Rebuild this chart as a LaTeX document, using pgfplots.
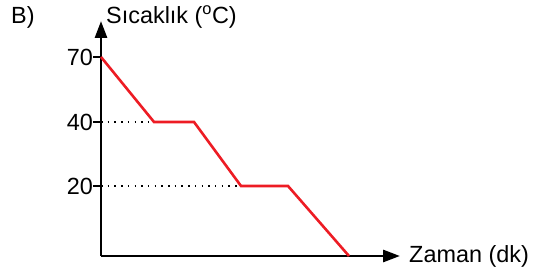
\documentclass[border=0pt]{standalone}
\usepackage{fontspec}
\setmainfont{Liberation Sans}
\usepackage{pgfplots}
\pgfplotsset{compat=1.18}
\usetikzlibrary{arrows.meta}
\definecolor{lred}{RGB}{237,28,36}
\begin{document}
\begin{tikzpicture}
\useasboundingbox (0,0) rectangle (535bp,276bp);
\node[anchor=west,inner sep=0pt,font=\fontsize{23.5}{28}\selectfont] at (11bp,258.5bp) {B)};
\begin{axis}[
  at={(101bp,20bp)}, anchor=origin,
  scale only axis, width=299bp, height=235bp,
  xmin=0, xmax=5.98, ymin=0, ymax=86.6,
  y coord trafo/.code={\pgfmathparse{3.5*min(#1,20)+3.2*max(min(#1,40)-20,0)+(65/30)*max(#1-40,0)}},
  axis lines=left,
  axis line style={line width=2.8bp, -{Triangle[length=17bp,width=12bp]}},
  xtick=\empty,
  ytick={20,40,70}, yticklabels={20,40,70},
  tick align=outside, major tick length=8bp,
  tick style={line width=1.5bp, black},
  font=\fontsize{23.5}{28}\selectfont,
  /pgf/number format/assume math mode=true,
  yticklabel style={anchor=east, inner sep=0pt, xshift=0bp},
  every axis y label/.style={at={(axis description cs:0,1)}, anchor=west, xshift=5bp, yshift=4bp, inner sep=0pt},
  every axis x label/.style={at={(axis description cs:1,0)}, anchor=west, xshift=9bp, inner sep=0pt},
  ylabel={Sıcaklık ($^{\mathrm{o}}$C)},
  xlabel={Zaman (dk)},
  clip=false,
]
\addplot[black, line width=1.5bp, dash pattern=on 1.5bp off 5.2bp] coordinates {(0,40) (1.06,40)};
\addplot[black, line width=1.5bp, dash pattern=on 1.5bp off 5.2bp] coordinates {(0,20) (2.80,20)};
\addplot[lred, line width=2.6bp, line join=miter] coordinates {
  (0,70) (1.06,40) (1.86,40) (2.80,20) (3.74,20) (4.96,0)};
\end{axis}
\end{tikzpicture}
\end{document}
